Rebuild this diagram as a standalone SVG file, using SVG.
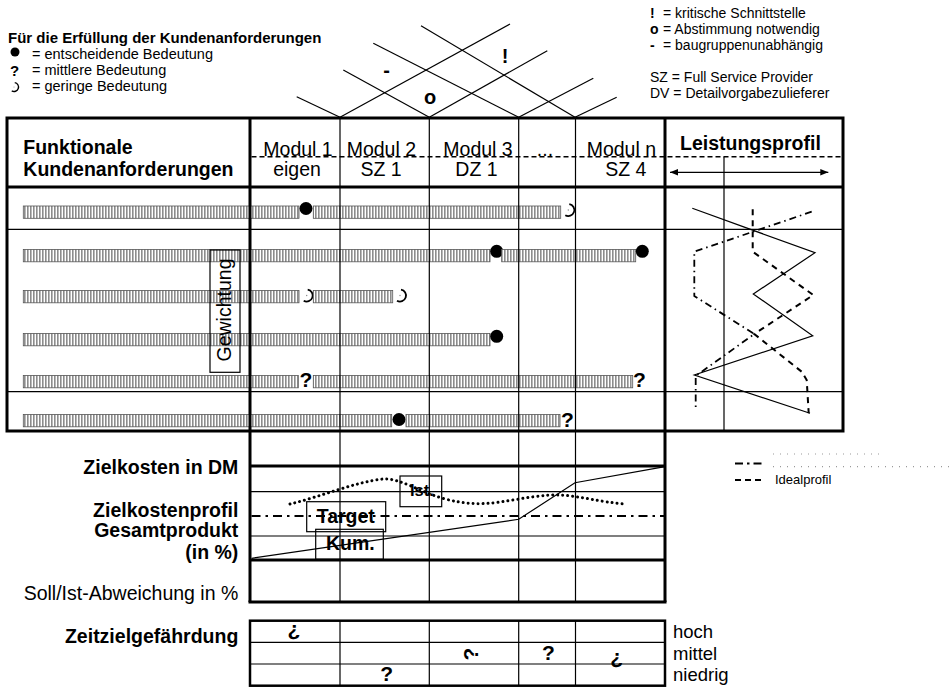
<svg xmlns="http://www.w3.org/2000/svg" width="950" height="687" viewBox="0 0 950 687">
<defs>
<pattern id="hatch" patternUnits="userSpaceOnUse" width="3" height="10">
<rect width="3" height="10" fill="#fff"/>
<rect width="1.6" height="10" fill="#8c8c8c"/>
</pattern>
<marker id="ah" viewBox="0 0 10 10" refX="10" refY="5" markerWidth="10" markerHeight="8" markerUnits="userSpaceOnUse" orient="auto-start-reverse">
<path d="M0,1 L10,5 L0,9 z" fill="#000"/>
</marker>
<g id="moon"><path d="M1,-5.9 A6,6 0 1 1 -3,5.2" fill="none" stroke="#000" stroke-width="1.8"/><circle r="0.7" fill="#888"/></g>
</defs>
<style>
text{font-family:"Liberation Sans",Arial,Helvetica,sans-serif;fill:#000}
.b{font-weight:bold}
.lg{font-size:14.5px}
.lt{font-size:15px}
.lr{font-size:14px}
.t{font-size:19.5px}
.m{text-anchor:middle}
.e{text-anchor:end}
.bar{fill:url(#hatch);stroke:#555;stroke-width:0.8}
.thick{stroke:#000;stroke-width:3;fill:none}
.thin{stroke:#000;stroke-width:1.2;fill:none}
.sym{font-size:21px;font-weight:bold}
.roof{font-size:20px;font-weight:bold;text-anchor:middle}
</style>
<rect width="950" height="687" fill="#fff"/>

<g id="legend-left">
<text x="8" y="43" class="b lt">Für die Erfüllung der Kundenanforderungen</text>
<circle cx="15" cy="52" r="4.5" fill="#000"/>
<text x="32" y="59" class="lg">= entscheidende Bedeutung</text>
<text x="10" y="76" class="b lt">?</text>
<text x="32" y="75" class="lg">= mittlere Bedeutung</text>
<use href="#moon" transform="translate(14,87) scale(0.75)"/>
<text x="32" y="91" class="lg">= geringe Bedeutung</text>
</g>

<g id="legend-right">
<text x="650" y="18" class="b lr">!</text>
<text x="663" y="18" class="lr">= kritische Schnittstelle</text>
<text x="650" y="34" class="b lr">o</text>
<text x="663" y="34" class="lr">= Abstimmung notwendig</text>
<text x="650" y="50" class="b lr">-</text>
<text x="663" y="50" class="lr">= baugruppenunabhängig</text>
<text x="650" y="82" class="lr">SZ = Full Service Provider</text>
<text x="650" y="98" class="lr">DV = Detailvorgabezulieferer</text>
</g>

<g id="connectors" class="thin">
<line x1="296.7" y1="96.7" x2="340" y2="117.3"/>
<line x1="340" y1="117.3" x2="510" y2="24"/>
<line x1="343.3" y1="70" x2="429.3" y2="117.3"/>
<line x1="429.3" y1="117.3" x2="547.3" y2="50.7"/>
<line x1="373.3" y1="43.3" x2="518.7" y2="117.3"/>
<line x1="518.7" y1="117.3" x2="593.3" y2="78.3"/>
<line x1="421" y1="25.7" x2="575" y2="117.3"/>
<line x1="575" y1="117.3" x2="616.7" y2="97.3"/>
</g>
<g id="roof-labels">
<text x="386.7" y="77" class="roof">-</text>
<text x="505" y="62.5" class="roof">!</text>
<text x="430" y="103.5" class="roof">o</text>
</g>

<g id="rows">
<rect class="bar" x="23.3" y="206" width="275.7" height="12.3"/>
<circle cx="306" cy="208.5" r="6.5"/>
<rect class="bar" x="313.3" y="206" width="247.4" height="12.3"/>
<use href="#moon" x="568.3" y="210"/>

<rect class="bar" x="23.3" y="249.5" width="466.7" height="12.3"/>
<circle cx="496.7" cy="251.3" r="6.5"/>
<rect class="bar" x="501.7" y="249.5" width="134" height="12.3"/>
<circle cx="642.3" cy="251.3" r="6.5"/>

<rect class="bar" x="23.3" y="290.5" width="275.7" height="12.3"/>
<use href="#moon" x="306.7" y="295.5"/>
<rect class="bar" x="313.3" y="290.5" width="79.4" height="12.3"/>
<use href="#moon" x="400" y="295.5"/>

<rect class="bar" x="23.3" y="333.5" width="466.7" height="12.3"/>
<circle cx="496.7" cy="336.3" r="6.5"/>

<rect class="bar" x="23.3" y="375.5" width="275" height="12.3"/>
<text x="306" y="387" class="sym m">?</text>
<rect class="bar" x="313.3" y="375.5" width="319.4" height="12.3"/>
<text x="639.5" y="387" class="sym m">?</text>

<rect class="bar" x="23.3" y="414.5" width="368.4" height="12.3"/>
<circle cx="399" cy="419.5" r="6.5"/>
<rect class="bar" x="406" y="414.5" width="154" height="12.3"/>
<text x="567.5" y="427" class="sym m">?</text>
</g>

<g id="table">
<rect class="thick" x="7" y="118" width="836" height="313"/>
<line class="thick" x1="7" y1="187" x2="843" y2="187"/>
<line class="thin" x1="7" y1="229.3" x2="843" y2="229.3"/>
<line class="thin" x1="7" y1="391.7" x2="843" y2="391.7"/>
<line class="thick" x1="250" y1="118" x2="250" y2="602"/>
<line class="thick" x1="665" y1="118" x2="665" y2="602"/>
<line class="thin" x1="340" y1="118" x2="340" y2="602"/>
<line class="thin" x1="429.3" y1="118" x2="429.3" y2="602"/>
<line class="thin" x1="518.7" y1="118" x2="518.7" y2="602"/>
<line class="thin" x1="575.5" y1="118" x2="575.5" y2="602"/>
<line class="thin" x1="724" y1="156.7" x2="724" y2="431"/>
<line x1="251.5" y1="156.7" x2="841.5" y2="156.7" stroke="#000" stroke-width="1.6" stroke-dasharray="5 3"/>
<line x1="670" y1="172.3" x2="828.3" y2="172.3" stroke="#000" stroke-width="1.2" marker-start="url(#ah)" marker-end="url(#ah)"/>
</g>

<g id="header">
<text x="23.3" y="154.3" class="b t">Funktionale</text>
<text x="23.3" y="175.7" class="b t">Kundenanforderungen</text>
<text x="263.3" y="155.5" class="t">Modul 1</text>
<text x="297" y="175.7" class="t m">eigen</text>
<text x="346.7" y="155.5" class="t">Modul 2</text>
<text x="381" y="175.7" class="t m">SZ 1</text>
<text x="443.3" y="155.5" class="t">Modul 3</text>
<text x="476.5" y="175.7" class="t m">DZ 1</text>
<text x="545" y="155.5" class="t m">...</text>
<text x="586.7" y="155.5" class="t">Modul n</text>
<text x="625.8" y="175.7" class="t m">SZ 4</text>
<text x="680" y="150" class="b t">Leistungsprofil</text>
</g>

<g id="gewichtung">
<rect class="thin" x="210" y="250" width="30" height="122.3"/>
<text transform="translate(230.5,310) rotate(-90)" class="t m">Gewichtung</text>
</g>

<g id="leistungsprofil-chart" fill="none" stroke="#000">
<polyline stroke-width="1.2" points="692.3,208.3 815,252.7 753.3,294 812.7,335.7 694.3,375 810,413.3"/>
<polyline stroke-width="2" stroke-dasharray="6 5" points="752.7,209.3 752.7,251.7 813.3,295 754.3,334 801.7,371.7 806.7,380 808.7,413.3"/>
<polyline stroke-width="1.8" stroke-dasharray="7 4 1.5 4" points="811.7,211.7 694.3,251.7 694.3,296 754.3,334 695.7,376 695.7,410"/>
</g>

<g id="zielkosten">
<line class="thick" x1="250" y1="466" x2="665" y2="466"/>
<line class="thin" x1="250" y1="491.7" x2="665" y2="491.7"/>
<line class="thin" x1="250" y1="536" x2="665" y2="536"/>
<line class="thick" x1="250" y1="560" x2="665" y2="560"/>
<line class="thick" x1="248.5" y1="602" x2="666.5" y2="602"/>
<line x1="251.5" y1="516" x2="665" y2="516" stroke="#000" stroke-width="2" stroke-dasharray="9 5 2.5 5"/>
<polyline class="thin" points="251.7,558.3 518.7,519.3 575,482.7 665,466.7"/>
<path d="M290,504 C320,497 355,482 383,479 C400,478 420,492 445,499 C465,504 480,505 500,502 C520,499 545,494 560,495 C580,496 600,502 625,504" fill="none" stroke="#000" stroke-width="3" stroke-linecap="round" stroke-dasharray="0.01 5"/>
<rect class="thin" x="400" y="476" width="41.7" height="30.7"/>
<text x="410" y="496" class="b" style="font-size:16.5px">Ist.</text>
<rect class="thin" x="306.7" y="501.7" width="79" height="30"/>
<text x="316.7" y="522.7" class="b t">Target</text>
<rect class="thin" x="315.7" y="529.3" width="67.6" height="30"/>
<text x="326" y="550" class="b t">Kum.</text>
<text x="238.3" y="474" class="b t e">Zielkosten in DM</text>
<text x="238.3" y="517" class="b t e">Zielkostenprofil</text>
<text x="238.3" y="537" class="b t e">Gesamtprodukt</text>
<text x="238.3" y="558.5" class="b t e">(in %)</text>
<text x="238.3" y="599.5" class="t e">Soll/Ist-Abweichung in %</text>
</g>

<g id="legend-lines">
<line x1="773" y1="454" x2="885" y2="454" stroke="#999" stroke-width="1.2" stroke-dasharray="1 6"/>
<line x1="735" y1="463.5" x2="762" y2="463.5" stroke="#000" stroke-width="2" stroke-dasharray="8 4 2.5 4"/>
<line x1="773" y1="466.7" x2="950" y2="466.7" stroke="#999" stroke-width="1.2" stroke-dasharray="1 6"/>
<line x1="735" y1="480" x2="763" y2="480" stroke="#000" stroke-width="2" stroke-dasharray="6 4"/>
<text x="775" y="484" style="font-size:13px">Idealprofil</text>
</g>

<g id="zeitziel">
<text x="238.3" y="643" class="b t e">Zeitzielgefährdung</text>
<rect x="250" y="620.7" width="415" height="65" fill="none" stroke="#000" stroke-width="2.5"/>
<line class="thin" x1="250" y1="642.3" x2="665" y2="642.3"/>
<line class="thin" x1="250" y1="664" x2="665" y2="664"/>
<line class="thin" x1="340" y1="620.7" x2="340" y2="685.7"/>
<line class="thin" x1="429.3" y1="620.7" x2="429.3" y2="685.7"/>
<line class="thin" x1="518.7" y1="620.7" x2="518.7" y2="685.7"/>
<line class="thin" x1="575.5" y1="620.7" x2="575.5" y2="685.7"/>
<text x="294" y="636" class="sym m">¿</text>
<text x="386.7" y="680.7" class="sym m">?</text>
<text transform="translate(478,654) rotate(-90)" class="sym m">?</text>
<text x="548.3" y="660" class="sym m">?</text>
<text x="616.7" y="664" class="sym m">¿</text>
<text x="673" y="638" style="font-size:18.5px">hoch</text>
<text x="673" y="659.5" style="font-size:18.5px">mittel</text>
<text x="673" y="681" style="font-size:18.5px">niedrig</text>
</g>
</svg>
